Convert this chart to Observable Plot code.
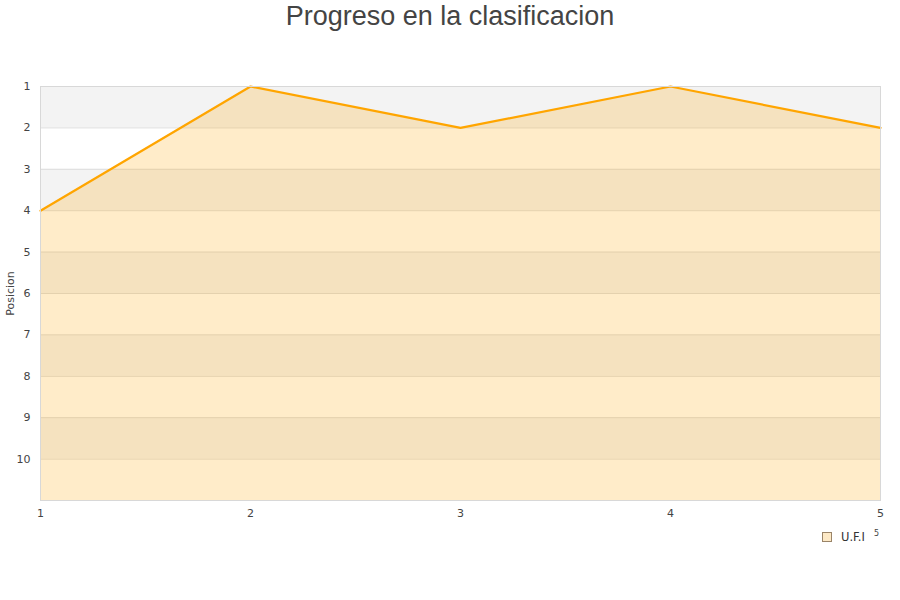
<!DOCTYPE html>
<html>
<head>
<meta charset="utf-8">
<script src="https://cdn.jsdelivr.net/npm/d3@7"></script>
<script src="https://cdn.jsdelivr.net/npm/@observablehq/plot@0.6"></script>
<style>
  body { margin: 0; background: #fff; }
  #grafico { position: relative; width: 900px; height: 600px; }
  .titulo {
    height: 40px; line-height: 32px; text-align: center;
    font-family: "Liberation Sans", Arial, sans-serif; font-size: 27px; color: #444;
  }
  .leyenda {
    position: absolute; left: 822px; top: 530px;
    font-family: "DejaVu Sans", sans-serif; font-size: 11.5px; color: #333;
  }
  .leyenda .caja {
    display: inline-block; width: 8px; height: 8px; vertical-align: -1px;
    background: #fde9c6; border: 1px solid #9a8468; margin-right: 9px;
  }
  .leyenda .sup { font-size: 8px; position: relative; top: -5px; margin-left: 9px; color: #444; }
</style>
</head>
<body>
<div id="grafico">
  <div class="titulo">Progreso en la clasificacion</div>
</div>
<script>
// jornadas y posición del equipo
const jornadas = [1, 2, 3, 4, 5];
const posiciones = [4, 1, 2, 1, 2];
const equipo = "U.F.I";
const ticksY = [1, 2, 3, 4, 5, 6, 7, 8, 9, 10];
const franjas = [1, 2, 3, 4, 5, 6, 7, 8, 9, 10];

const datos = jornadas.map((j, i) => ({ jornada: j, pos: posiciones[i] }));

const grafico = Plot.plot({
  width: 900,
  height: 560,
  marginLeft: 40,
  marginRight: 20,
  marginTop: 46,
  marginBottom: 100,
  style: {
    background: "transparent",
    color: "#444",
    fontFamily: "'DejaVu Sans', sans-serif",
    fontSize: "11px",
  },
  x: { domain: [1, 5] },
  y: { domain: [1, 11], reverse: true },
  marks: [
    Plot.rect(franjas, {
      x1: () => 1, x2: () => 5,
      y1: (d) => d, y2: (d) => d + 1,
      fill: (d) => (d % 2 === 1 ? "#f3f3f3" : "#ffffff"),
    }),
    Plot.ruleY(ticksY.slice(1), { stroke: "#dddddd", strokeWidth: 1 }),
    Plot.areaY(datos, {
      x: "jornada", y1: () => 11, y2: "pos",
      fill: "#ffa500", fillOpacity: 0.21,
    }),
    Plot.lineY(datos, {
      x: "jornada", y: "pos",
      stroke: "#ffa500", strokeWidth: 2.2,
    }),
    Plot.frame({ stroke: "#d8d8d8" }),
    Plot.axisY({
      ticks: ticksY, tickSize: 0, tickPadding: 10,
      label: "Posicion", labelAnchor: "center", labelArrow: "none",
      labelOffset: 34,
    }),
    Plot.axisX({
      ticks: jornadas, tickFormat: "d", tickSize: 0, tickPadding: 9, label: null,
    }),
  ],
});

document.getElementById("grafico").appendChild(grafico);

const leyenda = document.createElement("div");
leyenda.className = "leyenda";
leyenda.innerHTML = `<span class="caja"></span>${equipo}<span class="sup">5</span>`;
document.getElementById("grafico").appendChild(leyenda);
</script>
</body>
</html>
